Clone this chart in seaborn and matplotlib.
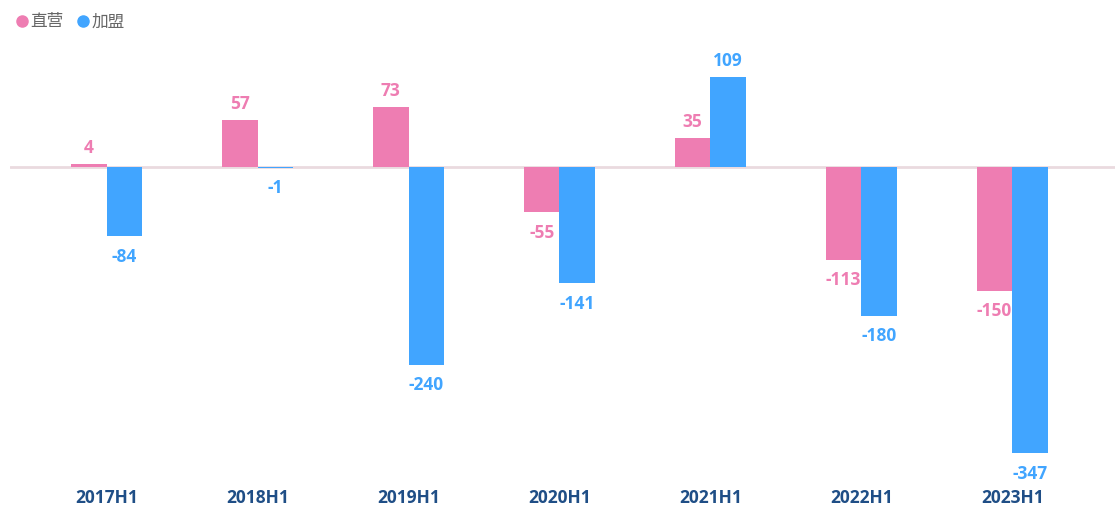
import pandas as pd
import matplotlib
matplotlib.use('Agg')
import matplotlib.pyplot as plt
import seaborn as sns
from matplotlib.lines import Line2D

# 数据
periods = ['2017H1', '2018H1', '2019H1', '2020H1', '2021H1', '2022H1', '2023H1']
direct = [4, 57, 73, -55, 35, -113, -150]
franchise = [-84, -1, -240, -141, 109, -180, -347]
series_names = ['直营', '加盟']
colors = ['#EE7DB2', '#41A5FF']

df = pd.DataFrame({
    'period': periods * 2,
    'value': direct + franchise,
    'type': [series_names[0]] * len(periods) + [series_names[1]] * len(periods),
})

sns.set_style('white')
plt.rcParams['font.family'] = ['Open Sans', 'Noto Sans CJK SC', 'DejaVu Sans']

fig = plt.figure(figsize=(11.15, 5.09), dpi=100)
ax = fig.add_axes([10 / 1115, 44 / 509, 1 - 10 / 1115, 425 / 509])

sns.barplot(data=df, x='period', y='value', hue='type', palette=colors,
            width=0.47, saturation=1, legend=False, linewidth=0, ax=ax)

ax.axhline(0, color='#EADADF', lw=2, zorder=0)
ax.set_xlim(-0.64, 6.68)
ax.set_ylim(-361, 154)

# 数值标签
for cont, col in zip(ax.containers, colors):
    for bar in cont:
        v = bar.get_height()
        x = bar.get_x() + bar.get_width() / 2
        off = 5 if v >= 0 else -8
        ax.annotate(f'{v:.0f}', (x, v), xytext=(0, off), textcoords='offset points',
                    ha='center', va='bottom' if v >= 0 else 'top',
                    color=col, fontsize=12.5, fontweight='bold')

ax.set_xlabel('')
ax.set_ylabel('')
ax.set_yticks([])
ax.tick_params(axis='x', length=0, pad=17)
for lab in ax.get_xticklabels():
    lab.set_fontsize(12.5)
    lab.set_fontweight('bold')
    lab.set_color('#1F4E86')
for s in ax.spines.values():
    s.set_visible(False)

handles = [Line2D([], [], marker='o', ls='', color=c, markersize=8) for c in colors]
fig.legend(handles, series_names, loc='upper left', bbox_to_anchor=(-0.006, 1.003),
           ncol=2, frameon=False, handletextpad=-0.3, columnspacing=0.4,
           handlelength=1.6,
           prop={'family': ['Noto Sans CJK SC', 'DejaVu Sans'], 'size': 12},
           labelcolor='#666666')

fig.savefig('out.png', dpi=100)
